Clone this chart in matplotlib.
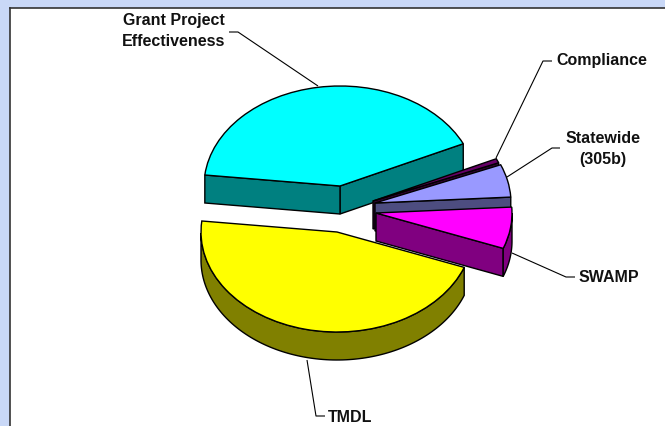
import numpy as np
import matplotlib
matplotlib.use("Agg")
import matplotlib.pyplot as plt

categories = ["Grant Project\nEffectiveness", "TMDL", "SWAMP", "Statewide\n(305b)", "Compliance"]
values = [41.3, 46.0, 6.7, 5.3, 0.7]
top_colors = ["#00ffff", "#ffff00", "#ff00ff", "#9999ff", "#660066"]
wall_colors = ["#008080", "#808000", "#800080", "#4d4d80", "#330033"]

# pixel layout of the reference
W, H = 665, 426
RX, RY = 136, 100
DEPTH = 28
centers = [(340, 186), (337, 232), (376, 213), (375, 203), (373, 201)]
draw_order = [0, 4, 3, 2, 1]
label_pos = [(174, 31), (350, 417), (609, 277), (603, 149), (602, 61)]
leaders = [
    [(229, 32), (238, 32), (318, 86)],
    [(307, 360), (316, 416), (325, 416)],
    [(512, 253), (566, 277), (575, 277)],
    [(507, 177), (552, 148), (560, 148)],
    [(496, 158), (543, 61), (552, 61)],
]


def ux(x, y):
    return x / RX, (H - y) / RY


def draw_walls(ax, wedge, center, wall):
    """Only the faces turned towards the viewer, the top wedge goes over them."""
    drop = DEPTH / RY
    t1, t2 = wedge.theta1, wedge.theta2
    cx, cy = center
    z = wedge.get_zorder() - 0.5
    for t, normal in ((t1, t1 - 90), (t2, t2 + 90)):
        if np.sin(np.radians(normal)) < 0:
            ex, ey = cx + np.cos(np.radians(t)), cy + np.sin(np.radians(t))
            ax.fill([cx, ex, ex, cx], [cy, ey, ey - drop, cy - drop], fc=wall, ec="black", lw=1, zorder=z)
    t = np.radians(np.linspace(t1, t2, 120))
    t = t[np.sin(t) < 0]
    if len(t):
        ox, oy = cx + np.cos(t), cy + np.sin(t)
        ax.fill(np.r_[ox, ox[::-1]], np.r_[oy, oy[::-1] - drop], fc=wall, ec="black", lw=1, zorder=z)


fig = plt.figure(figsize=(W / 100, H / 100), dpi=100, facecolor="#c9d8f7")

# white panel and leader lines, in pixels
bg = fig.add_axes([0, 0, 1, 1])
bg.set_xlim(0, W)
bg.set_ylim(H, 0)
bg.axis("off")
bg.fill([9.5, W, W, 9.5], [7.5, 7.5, H, H], fc="white", ec="none")
bg.plot([9.5, W], [7.5, 7.5], color="#333333", lw=1.2)
bg.plot([9.5, 9.5], [7.5, H], color="#333333", lw=1.2)
for pts in leaders:
    xs, ys = zip(*pts)
    bg.plot(xs, ys, color="black", lw=0.8, solid_capstyle="butt")

# pie tops, each wedge moved to its exploded centre
ax = fig.add_axes([0, 0, 1, 1])
ax.patch.set_alpha(0)
wedges, _ = ax.pie(values, colors=top_colors, startangle=25, radius=1,
                   wedgeprops=dict(ec="black", lw=1), normalize=True)
ax.set_aspect("auto")
ax.set_xlim(0, W / RX)
ax.set_ylim(0, H / RY)
ax.axis("off")

for n, i in enumerate(draw_order):
    c = ux(*centers[i])
    wedges[i].set_center(c)
    wedges[i].set_zorder(10 + n)
    draw_walls(ax, wedges[i], c, wall_colors[i])

txt = fig.add_axes([0, 0, 1, 1])
txt.set_xlim(0, W)
txt.set_ylim(H, 0)
txt.axis("off")
for name, pos in zip(categories, label_pos):
    txt.text(pos[0], pos[1], name, ha="center", va="center", fontsize=11.5, fontweight="bold",
             family="Liberation Sans", linespacing=1.55, color="#111111")

fig.savefig("out.png", dpi=100, facecolor=fig.get_facecolor())
